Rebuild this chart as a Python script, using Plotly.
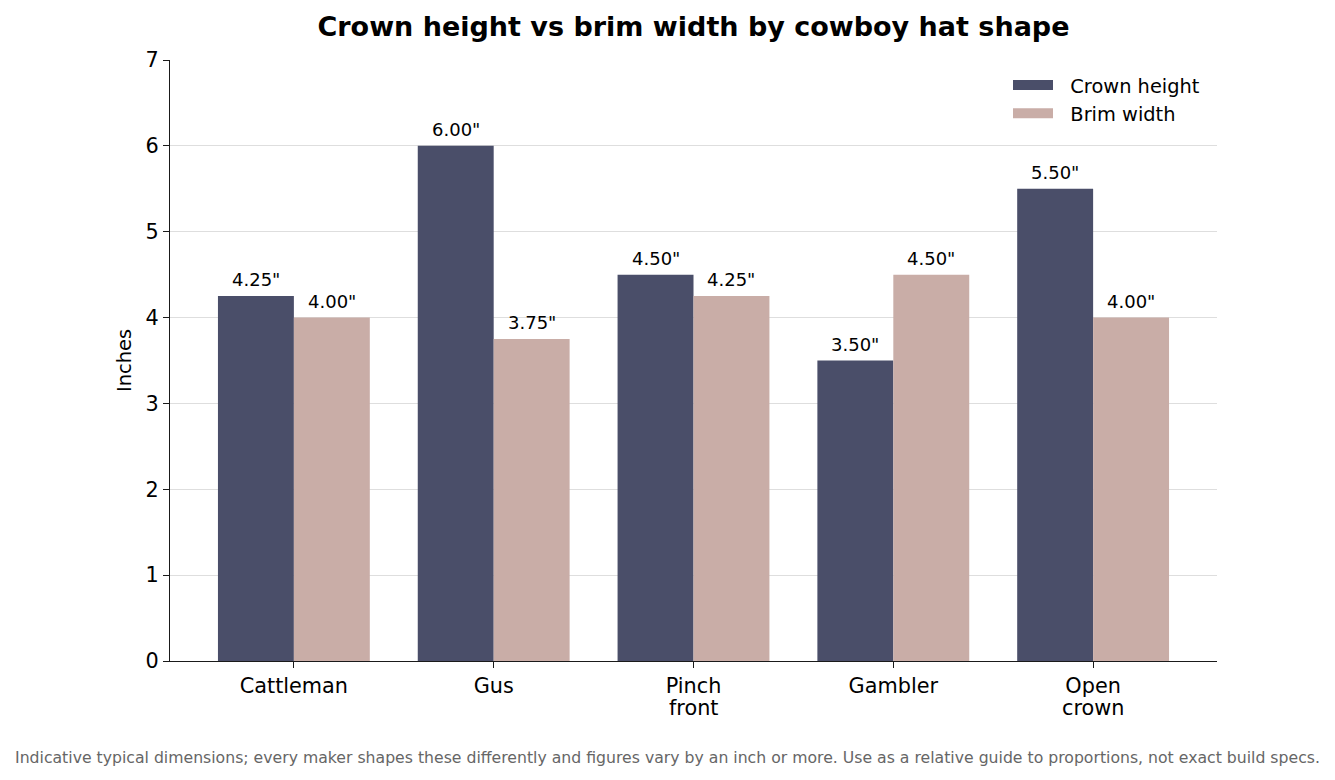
import plotly.graph_objects as go

categories = ["Cattleman", "Gus", "Pinch<br>front", "Gambler", "Open<br>crown"]
crown_height = [4.25, 6.00, 4.50, 3.50, 5.50]
brim_width = [4.00, 3.75, 4.25, 4.50, 4.00]
series_names = ["Crown height", "Brim width"]
colors = ["#4a4e69", "#c9ada7"]
caption = ("Indicative typical dimensions; every maker shapes these differently and figures vary "
           "by an inch or more. Use as a relative guide to proportions, not exact build specs.")

FONT = "DejaVu Sans"
PAGE_OFF = 8  # browser body margin
W, H = 1335 - PAGE_OFF, 780 - PAGE_OFF
L, R, T, B = 170 - PAGE_OFF, 118, 60 - PAGE_OFF, 119
PW, PH = W - L - R, H - T - B

x = list(range(len(categories)))
fig = go.Figure()
for name, vals, col in zip(series_names, [crown_height, brim_width], colors):
    fig.add_trace(go.Bar(x=x, y=vals, name=name, marker=dict(color=col, line=dict(width=0)),
                         showlegend=False, hoverinfo="y"))
    fig.add_trace(go.Scatter(x=[None], y=[None], mode="lines", name="\u00a0\u00a0" + name,
                             line=dict(color=col, width=14), showlegend=True))

bar_w = (1 - 0.24) / 2
for k, vals in enumerate([crown_height, brim_width]):
    off = (k - 0.5) * bar_w
    for i, v in enumerate(vals):
        fig.add_annotation(x=i + off, y=v, text=f'{v:.2f}"', showarrow=False,
                           yanchor="bottom", yshift=4, font=dict(family=FONT, size=18, color="#000"))

# category labels: first line as tick label, following lines with tighter spacing
first_lines = [c.split("<br>")[0] for c in categories]
for i, c in enumerate(categories):
    for j, part in enumerate(c.split("<br>")[1:], start=1):
        fig.add_annotation(x=i, xref="x", y=0, yref="paper", text=part, showarrow=False,
                           yanchor="top", yshift=-10 - 23 * j, font=dict(family=FONT, size=20.8, color="#000"))

fig.add_annotation(xref="paper", yref="paper", x=(667.5 - 170) / PW, y=(661 - 757) / PH,
                   text=caption, showarrow=False, xanchor="center", yanchor="middle",
                   font=dict(family=FONT, size=15.7, color="#666666"))

fig.update_layout(
    width=W, height=H, margin=dict(l=L, r=R, t=T, b=B, autoexpand=False),
    paper_bgcolor="white", plot_bgcolor="white",
    barmode="group", bargap=0.24, bargroupgap=0,
    font=dict(family=FONT, size=19.4, color="#000"),
    title=dict(text="<b>Crown height vs brim width by cowboy hat shape</b>", x=(693.5 - PAGE_OFF) / W,
               xanchor="center", y=1 - (27 - PAGE_OFF) / H, yanchor="middle",
               font=dict(family=FONT, size=27, color="#000")),
    legend=dict(x=1 - 12 / PW, xanchor="right", y=1 - 6 / PH, yanchor="top", itemwidth=40,
                bgcolor="rgba(255,255,255,0)", font=dict(family=FONT, size=19.4), tracegroupgap=4),
    showlegend=True,
)
fig.update_xaxes(range=[-0.62, len(categories) - 1 + 0.62], tickmode="array", tickvals=x, ticktext=first_lines,
                 showline=True, linecolor="#1a1a1a", linewidth=1.3, ticks="outside", ticklen=6, tickcolor="#1a1a1a",
                 showgrid=False, zeroline=False, tickfont=dict(family=FONT, size=20.8))
fig.update_yaxes(range=[0, 7], dtick=1, showline=True, linecolor="#1a1a1a", linewidth=1.3, ticks="outside",
                 ticklen=6, tickcolor="#1a1a1a", showgrid=True, gridcolor="#dedede", gridwidth=1.3,
                 zeroline=False, tickfont=dict(family=FONT, size=20.8),
                 title=dict(text="Inches", standoff=8, font=dict(family=FONT, size=19.4)))
fig.write_html("out.html")
